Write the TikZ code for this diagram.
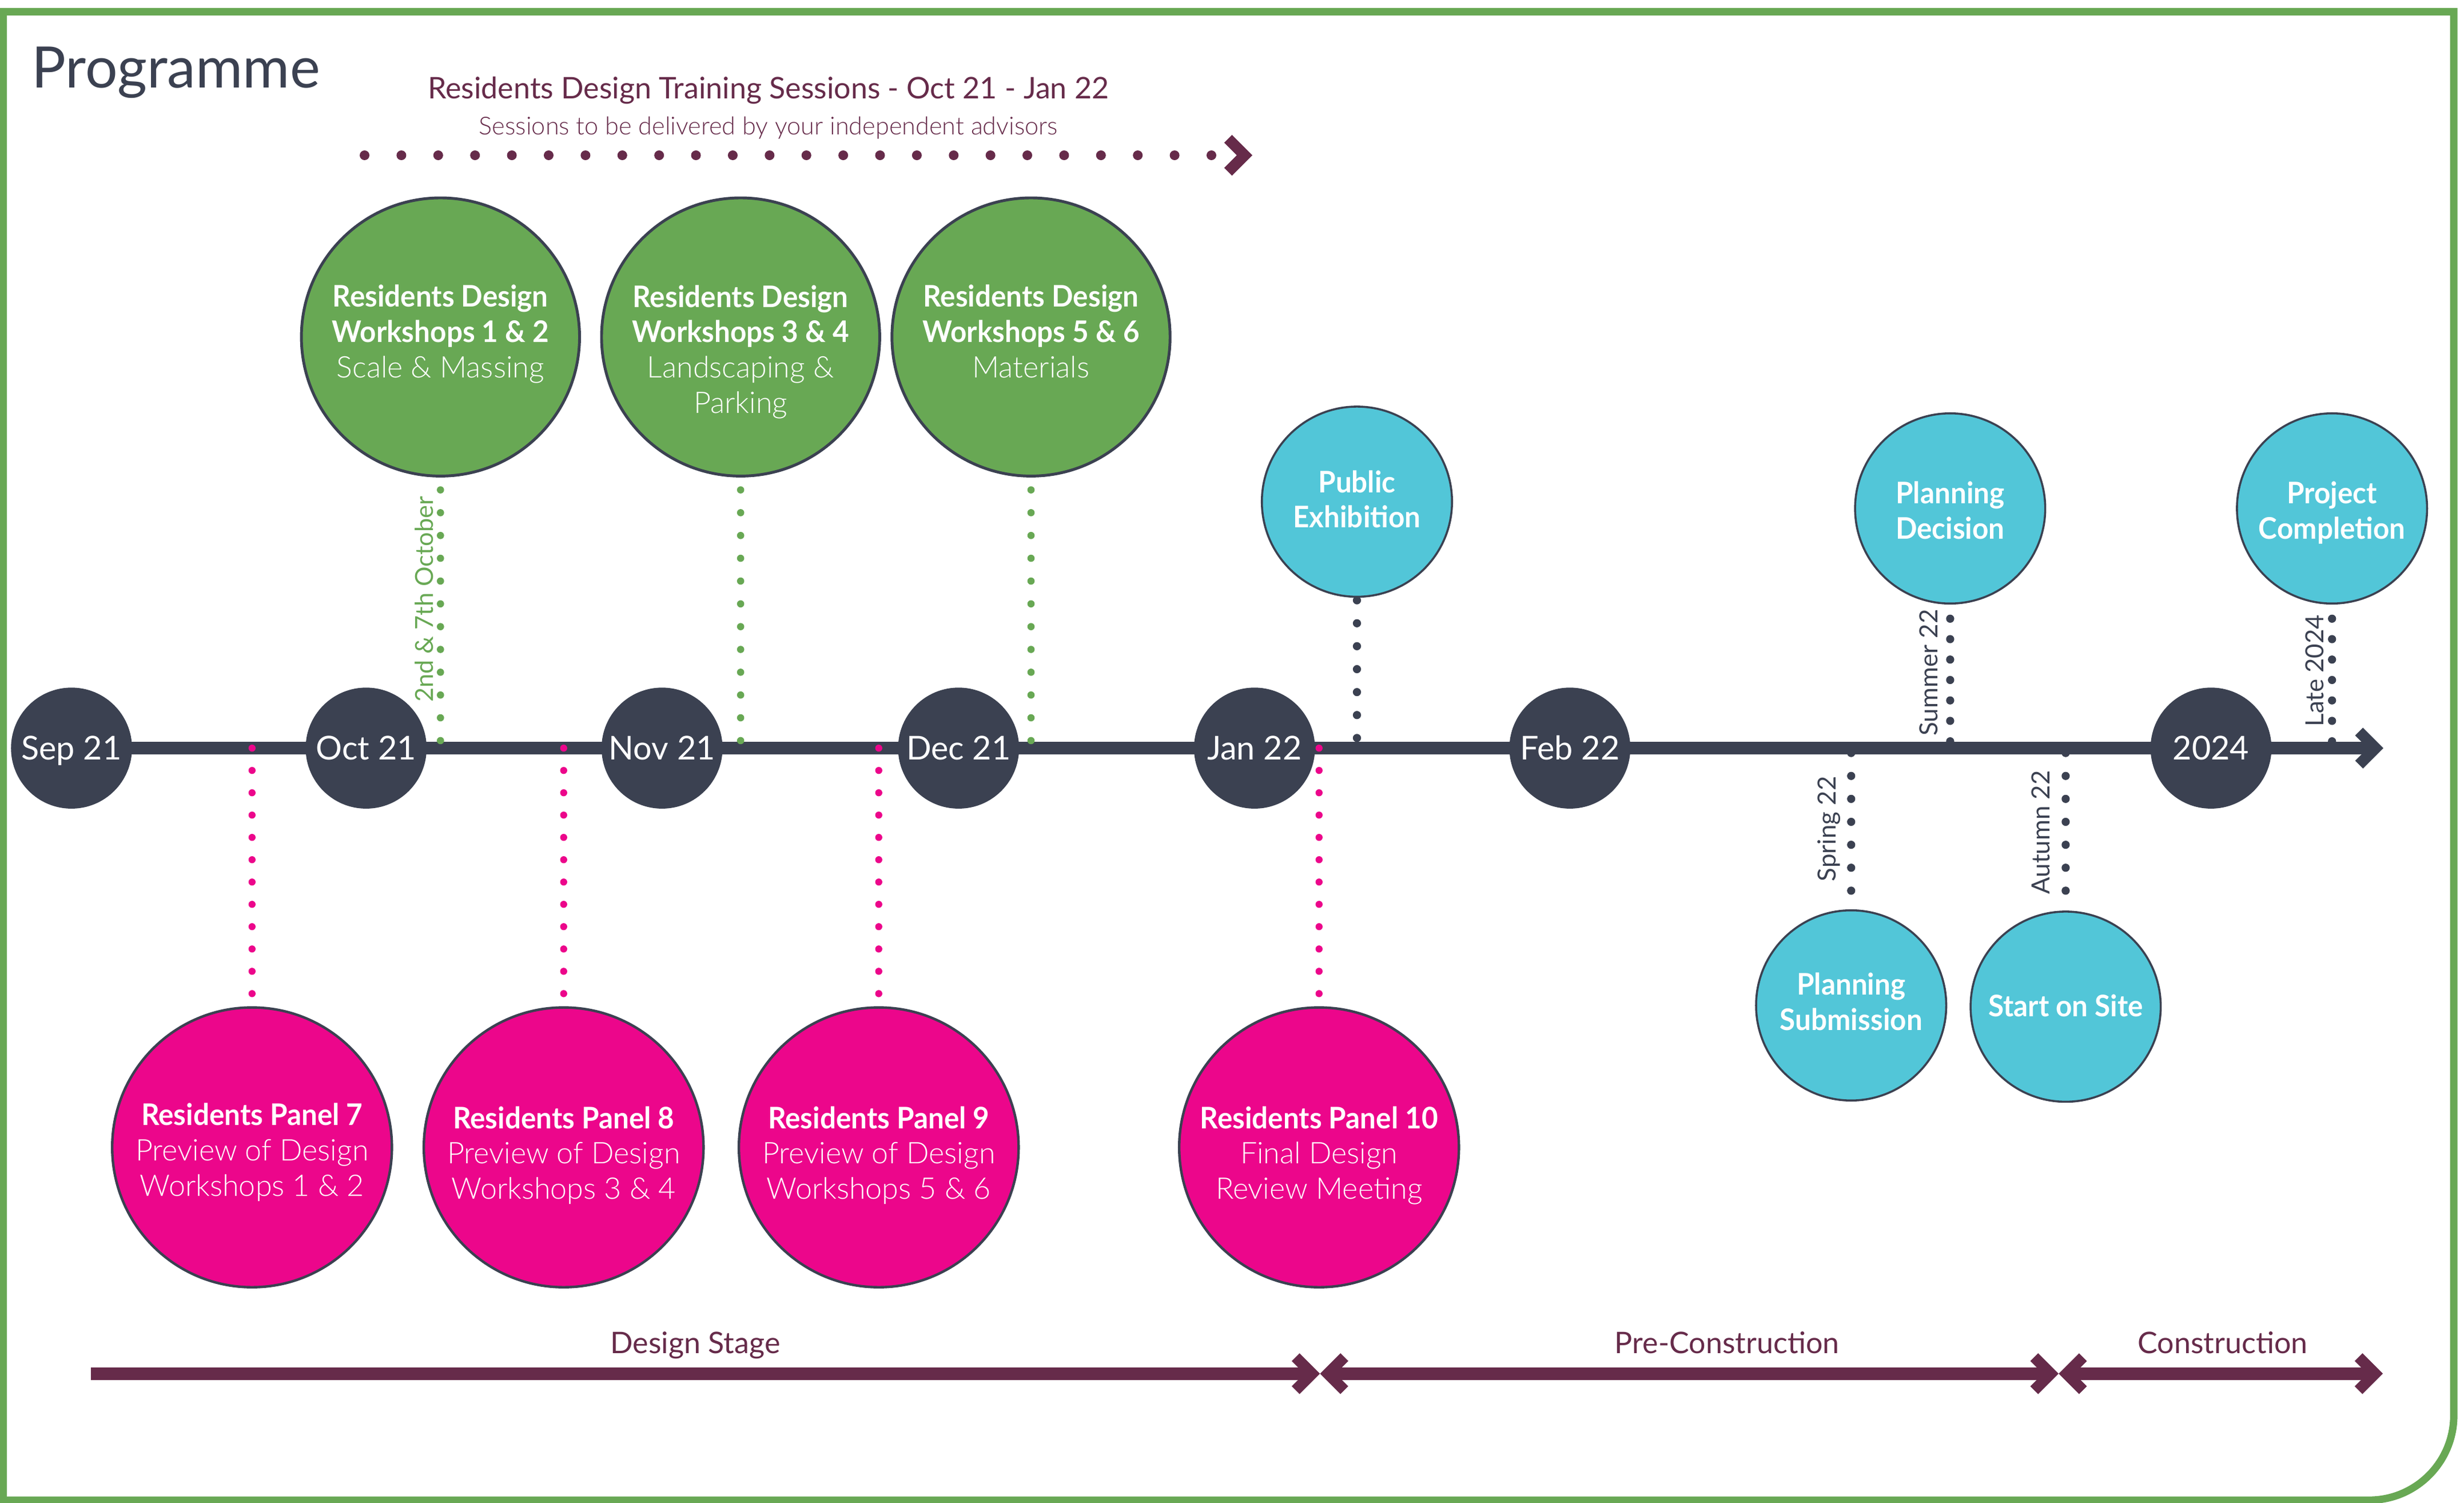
\documentclass[tikz,border=0pt]{standalone}
\usepackage{fontspec}
\setmainfont{Lato}[BoldFeatures={FakeStretch=0.95}]
\newfontfamily\lightfont{Lato Light}
\definecolor{slate}{RGB}{59,65,81}
\definecolor{grn}{RGB}{104,168,84}
\definecolor{pnk}{RGB}{236,6,139}
\definecolor{cyn}{RGB}{82,198,216}
\definecolor{mrn}{RGB}{102,43,74}
\newcommand\txtb[1]{{\bfseries\strut #1}}
\newcommand\txtl[1]{{\lightfont\strut #1}}
\tikzset{
  month/.style={circle, fill=slate, minimum size=77bp, inner sep=0pt, text=white,
    font=\fontsize{21}{25}\selectfont, text height=14.8bp, text depth=0pt},
  wcirc/.style={circle, fill=grn, draw=slate, line width=1.8bp, minimum size=177bp, inner sep=0pt},
  pcirc/.style={circle, fill=pnk, draw=slate, line width=1.6bp, minimum size=178bp, inner sep=0pt},
  ccirc/.style={circle, fill=cyn, draw=slate, line width=1.3bp, minimum size=121bp, inner sep=0pt},
  ctext/.style={text=white, align=center, inner sep=0pt, font=\fontsize{19}{22.6}\selectfont},
  cytext/.style={ctext, font=\fontsize{19}{22.6}\selectfont},
  gdots/.style={grn, line width=4.6bp, line cap=round, dash pattern=on 0bp off 14.5bp},
  pdots/.style={pnk, line width=4.5bp, line cap=round, dash pattern=on 0bp off 14.2bp},
  ddots/.style={slate, line width=5.2bp, line cap=round, dash pattern=on 0bp off 14.6bp},
  sdots/.style={slate, line width=5.2bp, line cap=round, dash pattern=on 0bp off 13bp},
  vlabel/.style={rotate=90, anchor=base west, inner sep=0pt, text=slate, font=\fontsize{16}{18}\selectfont},
  phase/.style={anchor=base, inner sep=0pt, text=mrn, font=\fontsize{19}{22}\selectfont},
  chev/.pic={\draw[line width=7bp, line join=miter, miter limit=10, line cap=butt]
    (-10.5,-10.5) -- (0,0) -- (-10.5,10.5);}
}
\begin{document}
\begin{tikzpicture}[x=1bp,y=-1bp]
\useasboundingbox (0,0) rectangle (1568,955.94);
% frame
\draw[grn, line width=4.7bp, line join=miter] (2,7.5) -- (1561.5,7.5) -- (1561.5,900.5)
  arc[start angle=0, end angle=-90, radius=54bp] -- (2,954.5) -- cycle;
% title
\node[anchor=base west, inner sep=0pt, text=slate, font=\fontsize{36.5}{40}\selectfont] (title) at (20,56) {Programme};
\node[anchor=base, inner sep=0pt, text=mrn, font=\fontsize{19}{22}\selectfont] (trt) at (489,62.7)
  {Residents Design Training Sessions - Oct 21 - Jan 22};
\node[anchor=base, inner sep=0pt, text=mrn, font=\fontsize{15.8}{18}\lightfont] (trs) at (489,85.6)
  {Sessions to be delivered by your independent advisors};
\coordinate (td0) at (232,98.8);
\coordinate (td1) at (772,98.8);
\coordinate (td2) at (792,98.8);
\draw[mrn, line width=6.2bp, line cap=round, dash pattern=on 0bp off 23.43bp] (td0) -- (td1);
\pic[mrn] at (td2) {chev};
% timeline
\coordinate (tl0) at (45.5,476);
\coordinate (tl1) at (1511.7,476);
\draw[slate, line width=8bp] (tl0) -- (tl1);
\pic[slate] at (tl1) {chev};
\node[month] (sep) at (45.5,476) {Sep 21};
\node[month] (oct) at (233,476) {Oct 21};
\node[month] (nov) at (421.3,476) {Nov 21};
\node[month] (dec) at (610,476) {Dec 21};
\node[month] (jan) at (798.3,476) {Jan 22};
\node[month] (feb) at (999,476) {Feb 22};
\node[month] (y24) at (1407,476) {2024};
% workshops
\node[wcirc] (ws1) at (280.3,214.4) {};
\node[wcirc] (ws2) at (471.3,214.4) {};
\node[wcirc] (ws3) at (656.1,214.4) {};
\node[ctext] (ws1t) at (280.3,213.4) {\txtb{Residents Design}\\\txtb{Workshops 1 \& 2}\\\txtl{Scale \& Massing}};
\node[ctext] (ws2t) at (471.3,224.7) {\txtb{Residents Design}\\\txtb{Workshops 3 \& 4}\\\txtl{Landscaping \&}\\\txtl{Parking}};
\node[ctext] (ws3t) at (656.1,213.4) {\txtb{Residents Design}\\\txtb{Workshops 5 \& 6}\\\txtl{Materials}};
\coordinate (g1) at (280.3,476);
\coordinate (g2) at (471.3,476);
\coordinate (g3) at (656.1,476);
\draw[gdots] ([yshift=-7.9bp]ws1.south) -- (g1);
\draw[gdots] ([yshift=-7.9bp]ws2.south) -- (g2);
\draw[gdots] ([yshift=-7.9bp]ws3.south) -- (g3);
\node[vlabel, text=grn, font=\fontsize{15.8}{18}\selectfont] (oct27) at (275.5,447) {2nd \& 7th October};
% panels
\node[pcirc] (pn7) at (160.4,730) {};
\node[pcirc] (pn8) at (358.7,730) {};
\node[pcirc] (pn9) at (559.2,730) {};
\node[pcirc] (pn10) at (839.4,730) {};
\node[ctext] (pn7t) at (160.4,734) {\txtb{Residents Panel 7}\\\txtl{Preview of Design}\\\txtl{Workshops 1 \& 2}};
\node[ctext] (pn8t) at (358.7,736) {\txtb{Residents Panel 8}\\\txtl{Preview of Design}\\\txtl{Workshops 3 \& 4}};
\node[ctext] (pn9t) at (559.2,736) {\txtb{Residents Panel 9}\\\txtl{Preview of Design}\\\txtl{Workshops 5 \& 6}};
\node[ctext] (pn10t) at (839.4,736) {\txtb{Residents Panel 10}\\\txtl{Final Design}\\\txtl{Review Meeting}};
\coordinate (p7) at (160.4,476);
\coordinate (p8) at (358.7,476);
\coordinate (p9) at (559.2,476);
\coordinate (p10) at (839.4,476);
\draw[pdots] (p7) -- (pn7.north);
\draw[pdots] (p8) -- (pn8.north);
\draw[pdots] (p9) -- (pn9.north);
\draw[pdots] (p10) -- (pn10.north);
% milestones
\node[ccirc] (pe) at (863.5,319.2) {};
\node[ccirc] (pd) at (1241,323.5) {};
\node[ccirc] (pc) at (1484,323.5) {};
\node[ccirc] (ps) at (1178,639.7) {};
\node[ccirc] (ss) at (1314.5,640.5) {};
\node[cytext] (pet) at (863.5,320.1) {\txtb{Public}\\\txtb{Exhibition}};
\node[cytext] (pdt) at (1241,327.3) {\txtb{Planning}\\\txtb{Decision}};
\node[cytext] (pct) at (1484,327.3) {\txtb{Project}\\\txtb{Completion}};
\node[cytext] (pst) at (1178,639.6) {\txtb{Planning}\\\txtb{Submission}};
\node[cytext] (sst) at (1314.5,642.4) {\txtb{Start on Site}};
\coordinate (pe0) at (863.5,476);
\coordinate (pd0) at (1241,476);
\coordinate (pc0) at (1484,476);
\coordinate (ps0) at (1178,479.1);
\coordinate (ss0) at (1314.5,479.1);
\draw[ddots] ([yshift=-1.6bp]pe.south) -- (pe0);
\draw[sdots] ([yshift=-9bp]pd.south) -- (pd0);
\draw[sdots] ([yshift=-9bp]pc.south) -- (pc0);
\draw[ddots] (ps0) -- ([yshift=9bp]ps.north);
\draw[ddots] (ss0) -- ([yshift=9bp]ss.north);
\node[vlabel] (summer) at (1233.2,468.3) {Summer 22};
\node[vlabel] (late) at (1478.7,462.5) {Late 2024};
\node[vlabel] (spring) at (1168.3,561) {Spring 22};
\node[vlabel] (autumn) at (1304.2,569.1) {Autumn 22};
% phases
\coordinate (ds0) at (58,874);
\coordinate (ds1) at (835,874);
\coordinate (pr0) at (845,874);
\coordinate (pr1) at (1305,874);
\coordinate (co0) at (1315,874);
\coordinate (co1) at (1511.4,874);
\draw[mrn, line width=7.8bp] (ds0) -- (ds1);
\draw[mrn, line width=7.8bp] (pr0) -- (pr1);
\draw[mrn, line width=7.8bp] (co0) -- (co1);
\pic[mrn] at (ds1) {chev};
\pic[mrn, xscale=-1] at (pr0) {chev};
\pic[mrn] at (pr1) {chev};
\pic[mrn, xscale=-1] at (co0) {chev};
\pic[mrn] at (co1) {chev};
\node[phase] (dsl) at (442.5,861) {Design Stage};
\node[phase] (prl) at (1099,861) {Pre-Construction};
\node[phase] (col) at (1414.5,861) {Construction};
\end{tikzpicture}
\end{document}
